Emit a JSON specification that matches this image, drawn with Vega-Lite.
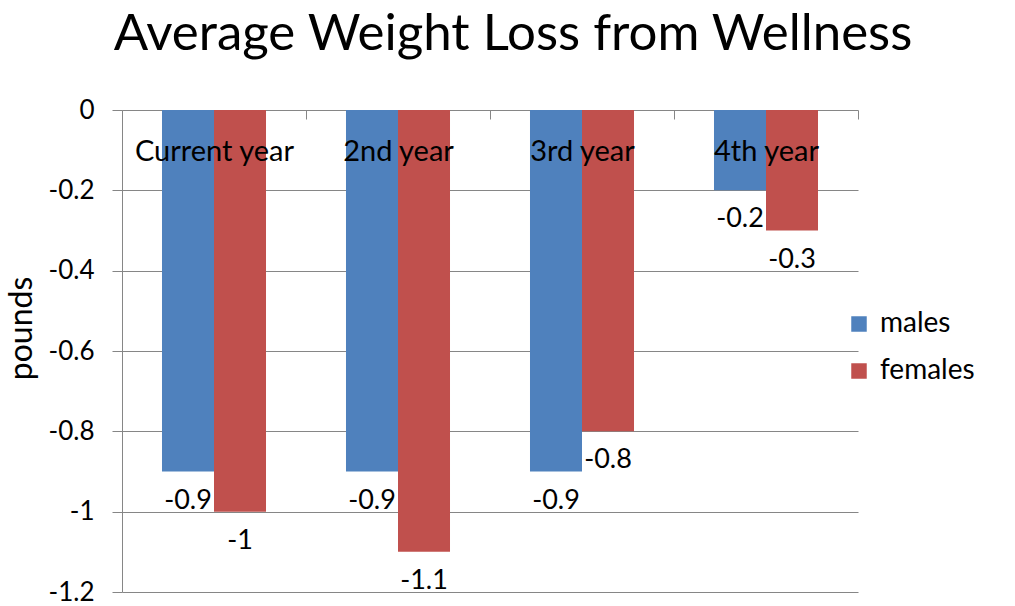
{
  "$schema": "https://vega.github.io/schema/vega-lite/v6.json",
  "autosize": "none",
  "width": 736,
  "height": 482,
  "padding": {"left": 122, "top": 110, "right": 157, "bottom": 14},
  "background": "white",
  "config": {"font": "Lato", "view": {"stroke": null}},
  "title": {
    "text": "Average Weight Loss from Wellness",
    "anchor": "middle",
    "frame": "group",
    "font": "Lato",
    "fontSize": 51,
    "fontWeight": "normal",
    "color": "black",
    "baseline": "alphabetic",
    "offset": -4,
    "dx": 23
  },
  "data": {
    "values": [
      {"year": "Current year", "sex": "males", "value": -0.9},
      {"year": "Current year", "sex": "females", "value": -1},
      {"year": "2nd year", "sex": "males", "value": -0.9},
      {"year": "2nd year", "sex": "females", "value": -1.1},
      {"year": "3rd year", "sex": "males", "value": -0.9},
      {"year": "3rd year", "sex": "females", "value": -0.8},
      {"year": "4th year", "sex": "males", "value": -0.2},
      {"year": "4th year", "sex": "females", "value": -0.3}
    ]
  },
  "encoding": {
    "x": {
      "field": "year",
      "type": "nominal",
      "sort": null,
      "scale": {"paddingInner": 0, "paddingOuter": 0},
      "axis": {
        "orient": "top",
        "zindex": 1,
        "title": null,
        "labelAngle": 0,
        "labelFontSize": 29,
        "labelColor": "black",
        "labelBaseline": "middle",
        "labelPadding": -32,
        "tickBand": "extent",
        "tickSize": -9,
        "tickColor": "#868686",
        "domain": false,
        "grid": false
      }
    },
    "xOffset": {
      "field": "sex",
      "type": "nominal",
      "sort": ["males", "females"],
      "scale": {"paddingInner": 0, "paddingOuter": 0.769}
    },
    "y": {
      "field": "value",
      "type": "quantitative",
      "scale": {"domain": [-1.2, 0], "nice": false, "zero": false},
      "axis": {
        "values": [0, -0.2, -0.4, -0.6, -0.8, -1, -1.2],
        "labelExpr": "'' + datum.value",
        "labelFontSize": 26,
        "labelColor": "black",
        "labelPadding": 18,
        "tickSize": 10,
        "tickColor": "#868686",
        "domainColor": "#868686",
        "gridColor": "#868686",
        "title": "pounds",
        "titleFontSize": 32,
        "titleFontWeight": "normal",
        "titleColor": "black",
        "titleX": -101,
        "titleY": 218,
        "titleBaseline": "middle",
        "titleAlign": "center"
      }
    }
  },
  "layer": [
    {
      "mark": {"type": "bar"},
      "encoding": {
        "color": {
          "field": "sex",
          "type": "nominal",
          "sort": ["males", "females"],
          "scale": {"domain": ["males", "females"], "range": ["#4F81BD", "#C0504D"]},
          "legend": {
            "title": null,
            "orient": "none",
            "legendX": 723,
            "legendY": 200,
            "symbolType": "square",
            "symbolSize": 240,
            "symbolStrokeWidth": 0,
            "symbolOpacity": 1,
            "labelFontSize": 28,
            "labelColor": "black",
            "rowPadding": 19,
            "labelOffset": 7
          }
        }
      }
    },
    {
      "mark": {"type": "text", "fontSize": 27, "dy": 29, "baseline": "middle", "align": "center", "color": "black"},
      "encoding": {"text": {"field": "value", "type": "nominal"}}
    }
  ]
}
